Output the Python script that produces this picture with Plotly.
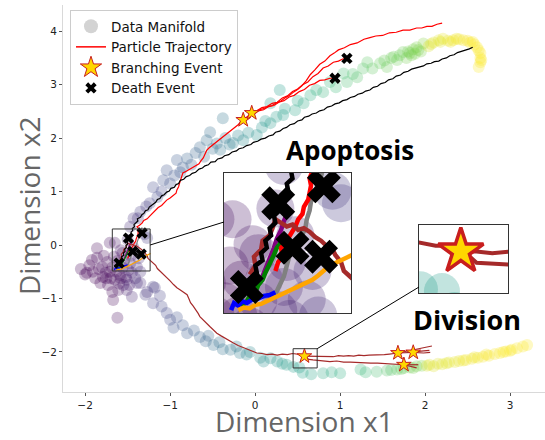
import plotly.graph_objects as go

# ---------------- data ----------------
# manifold points: (x, y, pseudotime)
MANIFOLD = [
    (-2.05,-0.45,0.0),(-2.0,-0.55,0.0),(-1.98,-0.52,0.0),(-1.95,-0.38,0.0),(-1.92,-0.28,0.0),
    (-1.91,-0.50,0.0),(-1.88,-0.62,0.0),(-1.86,-0.24,0.01),(-1.86,-0.06,0.02),(-1.84,-0.45,0.0),
    (-1.82,-0.71,0.0),(-1.80,-0.41,0.01),(-1.79,-0.60,0.0),(-1.78,-0.20,0.02),(-1.76,-0.52,0.01),
    (-1.74,-0.32,0.02),(-1.73,-0.75,0.01),(-1.71,0.04,0.04),(-1.71,-0.50,0.02),(-1.70,-0.62,0.02),
    (-1.68,-0.42,0.02),(-1.67,-1.03,0.02),(-1.66,-0.22,0.03),(-1.65,-0.65,0.03),(-1.65,0.04,0.05),
    (-1.63,-0.50,0.03),(-1.62,-1.36,0.03),(-1.61,-0.84,0.04),(-1.60,-0.72,0.04),(-1.59,-0.56,0.04),
    (-1.58,-0.10,0.05),(-1.56,-0.15,0.05),(-1.56,-0.42,0.05),(-1.55,-0.75,0.06),(-1.54,-0.30,0.06),
    (-1.52,-0.60,0.06),(-1.51,-0.65,0.07),(-1.51,-0.84,0.08),(-1.50,0.10,0.08),(-1.49,-0.47,0.07),
    (-1.47,-0.34,0.08),(-1.46,-0.20,0.08),(-1.45,-0.52,0.09),(-1.45,-0.97,0.1),(-1.43,-0.05,0.09),
    (-1.41,-0.62,0.1),(-1.39,-0.41,0.1),(-1.39,-0.71,0.11),(-1.37,-0.25,0.11),(-1.35,-0.50,0.12),
    (-1.62,-0.30,0.03),(-1.75,-0.62,0.01),(-1.58,-0.62,0.04),(-1.68,-0.88,0.02),(-1.48,-0.75,0.08),
    # upper branch
    (-1.47,0.34,0.12),(-1.38,0.50,0.15),(-1.43,0.50,0.14),(-1.35,0.62,0.17),(-1.30,0.20,0.16),
    (-1.27,0.13,0.17),(-1.28,0.72,0.18),(-1.24,0.78,0.19),(-1.20,1.08,0.22),(-1.15,0.90,0.21),
    (-1.10,1.00,0.22),(-1.08,1.21,0.24),(-1.04,1.40,0.25),(-1.00,1.15,0.24),(-0.95,1.30,0.26),
    (-0.92,1.59,0.28),(-0.88,1.36,0.27),(-0.85,1.45,0.28),(-0.80,1.62,0.30),(-0.75,1.50,0.29),
    (-0.70,1.72,0.31),(-0.65,1.83,0.32),(-0.60,1.65,0.32),(-0.57,1.96,0.34),(-0.53,2.11,0.35),
    (-0.50,1.80,0.34),(-0.45,1.90,0.36),(-0.41,1.78,0.37),(-0.38,2.37,0.38),(-0.35,2.00,0.38),
    (-0.30,1.88,0.40),(-0.26,1.91,0.42),(-0.20,2.05,0.44),(-0.14,1.96,0.47),(-0.08,2.10,0.48),
    (0.02,2.06,0.50),(0.08,2.20,0.51),(0.12,2.32,0.52),(0.18,2.28,0.53),(0.18,2.65,0.53),
    (0.25,2.40,0.54),(0.29,2.90,0.55),(0.33,2.43,0.55),(0.35,2.55,0.56),(0.47,2.52,0.58),
    (0.50,2.70,0.59),(0.57,2.65,0.60),(0.65,2.80,0.62),(0.72,2.90,0.63),(0.80,2.86,0.65),
    (0.88,3.05,0.66),(0.95,2.95,0.67),(1.04,3.21,0.69),(1.08,3.05,0.70),(1.15,3.20,0.71),
    (1.20,3.14,0.72),(1.27,3.30,0.73),(1.32,3.42,0.74),(1.38,3.30,0.75),(1.47,3.40,0.76),
    (1.55,3.33,0.77),(1.60,3.50,0.77),(1.67,3.46,0.78),(1.74,3.61,0.78),(1.78,3.50,0.79),
    (1.82,3.59,0.79),(1.86,3.66,0.8),(1.90,3.70,0.8),(1.95,3.62,0.8),(1.98,3.77,0.82),
    (2.04,3.72,0.94),(2.10,3.79,0.95),(2.16,3.83,0.96),(2.21,3.86,0.97),(2.27,3.82,0.97),
    (2.33,3.83,0.98),(2.40,3.85,0.98),(2.45,3.83,0.99),(2.53,3.79,0.99),(2.58,3.75,1.0),
    (2.61,3.70,1.0),(2.65,3.59,1.0),(2.65,3.50,1.0),(2.65,3.42,1.0),(2.63,3.33,1.0),
    (1.70,3.55,0.78),(1.88,3.58,0.8),(1.52,3.45,0.77),(2.30,3.80,0.98),(2.50,3.82,0.99),
    (1.92,3.65,0.8),(1.80,3.62,0.79),(2.07,3.76,0.95),(2.18,3.80,0.96),(2.37,3.86,0.98),
    (2.56,3.80,1.0),(2.63,3.64,1.0),(2.66,3.46,1.0),(1.63,3.52,0.78),(1.84,3.55,0.79),
    # lower branch
    (-1.35,-0.71,0.13),(-1.29,-0.93,0.16),(-1.27,-0.88,0.15),(-1.20,-0.78,0.16),(-1.18,-0.80,0.17),
    (-1.20,-1.09,0.19),(-1.12,-0.95,0.19),(-1.10,-1.15,0.20),(-1.04,-1.27,0.22),(-1.00,-1.40,0.23),
    (-0.96,-1.55,0.25),(-0.92,-1.35,0.24),(-0.85,-1.50,0.26),(-0.80,-1.65,0.28),(-0.72,-1.60,0.29),
    (-0.65,-1.72,0.30),(-0.58,-1.80,0.32),(-0.55,-1.70,0.32),(-0.49,-1.87,0.34),(-0.42,-1.82,0.35),
    (-0.38,-1.95,0.36),(-0.29,-1.96,0.38),(-0.22,-1.90,0.39),(-0.18,-2.02,0.41),(-0.10,-2.05,0.44),
    (-0.06,-2.00,0.46),(0.06,-2.11,0.48),(0.10,-2.18,0.49),(0.18,-2.12,0.50),(0.26,-2.18,0.52),
    (0.32,-2.22,0.53),(0.37,-2.24,0.54),(0.45,-2.28,0.55),(0.52,-2.29,0.55),(0.56,-2.39,0.57),
    (0.66,-2.42,0.58),(0.80,-2.40,0.60),(0.90,-2.38,0.61),(1.00,-2.40,0.62),(1.24,-2.33,0.66),
    (1.30,-2.38,0.67),(1.43,-2.37,0.70),(1.55,-2.35,0.72),(1.67,-2.33,0.75),(1.75,-2.30,0.77),
    (1.90,-2.27,0.79),(1.96,-2.26,0.8),(2.02,-2.26,0.94),(2.10,-2.27,0.95),(2.15,-2.22,0.95),
    (2.20,-2.23,0.96),(2.28,-2.20,0.96),(2.35,-2.19,0.97),(2.40,-2.17,0.97),(2.48,-2.15,0.98),
    (2.55,-2.13,0.98),(2.62,-2.11,0.98),(2.68,-2.09,0.99),(2.75,-2.07,0.99),(2.82,-2.04,0.99),
    (2.88,-2.02,1.0),(2.95,-1.99,1.0),(3.02,-1.96,1.0),(3.08,-1.93,1.0),(3.15,-1.90,1.0),
    (3.20,-1.87,1.0),(1.82,-2.29,0.78),(1.60,-2.34,0.73),(2.45,-2.16,0.98),(2.92,-2.0,1.0),
    (2.05,-2.24,0.95),(2.25,-2.21,0.96),(2.58,-2.10,0.98),(2.72,-2.05,0.99),(3.0,-1.98,1.0),
    (1.86,-2.30,0.79),(1.72,-2.32,0.76),
]

BLACK = [(-1.59,-0.36),(-1.575,-0.32),(-1.585,-0.29),(-1.565,-0.26),(-1.57,-0.22),(-1.545,-0.19),
    (-1.55,-0.15),(-1.53,-0.12),(-1.535,-0.08),(-1.515,-0.05),(-1.52,-0.01),(-1.50,0.02),(-1.505,0.06),
    (-1.485,0.09),(-1.47,0.13),(-1.475,0.17),(-1.455,0.2),(-1.46,0.24),(-1.44,0.27),(-1.445,0.31),
    (-1.42,0.34),(-1.425,0.38),(-1.40,0.41),(-1.38,0.45),(-1.385,0.49),(-1.35,0.52),(-1.33,0.57),
    (-1.31,0.59),(-1.29,0.64),(-1.26,0.66),(-1.245,0.71),(-1.22,0.74),(-1.20,0.78),(-1.17,0.8),
    (-1.15,0.85),(-1.12,0.87),(-1.10,0.92),(-1.07,0.94),(-1.04,0.99),(-1.01,1.01),(-0.99,1.06),
    (-0.95,1.08),(-0.93,1.13),(-0.9,1.15),(-0.88,1.21),(-0.84,1.23),(-0.81,1.28),(-0.77,1.3),
    (-0.74,1.34),(-0.7,1.36),(-0.66,1.42),(-0.62,1.44),(-0.59,1.48),(-0.55,1.5),(-0.52,1.55),
    (-0.47,1.56),(-0.44,1.61),(-0.39,1.63),(-0.36,1.67),(-0.31,1.69),(-0.27,1.74),(-0.22,1.76),
    (-0.19,1.8),(-0.14,1.82),(-0.1,1.86),(-0.05,1.88),(-0.02,1.92),(0.03,1.94),(0.07,1.98),
    (0.12,2.0),(0.16,2.04),(0.21,2.06),(0.24,2.11),(0.29,2.13),(0.33,2.18),(0.37,2.2),(0.41,2.25),
    (0.46,2.27),(0.5,2.32),(0.55,2.34),(0.58,2.39),(0.63,2.41),(0.67,2.45),(0.72,2.47),(0.76,2.51),
    (0.81,2.53),(0.85,2.58),(0.9,2.6),(0.94,2.64),(0.99,2.66),(1.03,2.7),(1.08,2.72),(1.12,2.76),
    (1.17,2.78),(1.21,2.82),(1.26,2.84),(1.3,2.88),(1.35,2.9),(1.39,2.95),(1.44,2.97),(1.48,3.02),
    (1.53,3.04),(1.57,3.09),(1.62,3.11),(1.66,3.16),(1.71,3.18),(1.75,3.23),(1.8,3.25),(1.84,3.29),
    (1.89,3.31),(1.93,3.34),(1.98,3.35),(2.02,3.39),(2.07,3.4),(2.11,3.43),(2.16,3.44),(2.2,3.48),
    (2.25,3.5),(2.29,3.54),(2.34,3.56),(2.38,3.6),(2.43,3.62),(2.47,3.65),(2.52,3.67),(2.56,3.7)]

RED_TRUNK = [(-1.50,-0.25),(-1.49,-0.2),(-1.475,-0.17),(-1.48,-0.12),(-1.46,-0.08),(-1.445,-0.04),
    (-1.43,0.0),(-1.42,0.04),(-1.405,0.07),(-1.40,0.11),(-1.385,0.15),(-1.38,0.19),(-1.375,0.23),
    (-1.38,0.27),(-1.37,0.31),(-1.39,0.34),(-1.36,0.37),(-1.33,0.41),(-1.31,0.46),(-1.27,0.49),
    (-1.24,0.54),(-1.2,0.6),(-1.17,0.64),(-1.14,0.7),(-1.1,0.74),(-1.07,0.8),(-1.04,0.84),(-1.0,0.88),
    (-0.96,0.93),(-0.93,0.97),(-0.92,1.03),(-0.9,1.09),(-0.89,1.15),(-0.88,1.2),(-0.87,1.27),
    (-0.85,1.35),(-0.81,1.38),(-0.76,1.43),(-0.71,1.47),(-0.66,1.52),(-0.64,1.57),(-0.61,1.63),
    (-0.59,1.7),(-0.57,1.77),(-0.54,1.82),(-0.5,1.87),(-0.46,1.93),(-0.42,1.98),(-0.37,2.04),
    (-0.33,2.09),(-0.28,2.14),(-0.24,2.2),(-0.2,2.25),(-0.17,2.3),(-0.14,2.34)]
RED_A = [(-0.14,2.34),(-0.1,2.4),(-0.07,2.43),(-0.04,2.47),(0.0,2.5),(0.05,2.53),(0.1,2.55),
    (0.15,2.59),(0.2,2.61),(0.25,2.66),(0.3,2.69),(0.35,2.75),(0.4,2.79),(0.45,2.86),(0.5,2.91),
    (0.55,2.98),(0.6,3.07),(0.65,3.19),(0.7,3.27),(0.76,3.38),(0.82,3.44),(0.88,3.54),(0.93,3.59),
    (0.98,3.65),(1.05,3.69),(1.12,3.75),(1.2,3.78),(1.28,3.85),(1.35,3.88),(1.42,3.91),(1.5,3.92),
    (1.58,3.97),(1.66,3.98),(1.74,4.02),(1.82,4.02),(1.9,4.06),(1.96,4.06),(2.02,4.09),(2.08,4.09),
    (2.14,4.13),(2.2,4.15)]
RED_B = [(-0.04,2.47),(0.02,2.51),(0.08,2.57),(0.14,2.59),(0.2,2.65),(0.26,2.67),(0.32,2.75),
    (0.38,2.79),(0.44,2.87),(0.5,2.92),(0.56,3.0),(0.62,3.05),(0.68,3.15),(0.74,3.21),(0.8,3.31),
    (0.86,3.35),(0.92,3.42),(0.98,3.44),(1.03,3.48),(1.08,3.49)]
RED_C = [(-0.14,2.34),(-0.08,2.41),(-0.02,2.44),(0.04,2.51),(0.1,2.53),(0.16,2.59),(0.22,2.61),
    (0.28,2.67),(0.34,2.7),(0.4,2.77),(0.46,2.8),(0.52,2.87),(0.58,2.91),(0.64,2.99),(0.7,3.02),
    (0.76,3.08),(0.82,3.09),(0.88,3.12),(0.94,3.12)]

BROWN_TRUNK = [(-1.59,-0.27),(-1.57,-0.22),(-1.575,-0.17),(-1.55,-0.13),(-1.545,-0.08),(-1.52,-0.05),
    (-1.51,-0.01),(-1.5,0.04),(-1.48,0.02),(-1.46,0.0),(-1.44,0.01),(-1.42,-0.02),(-1.4,-0.01),
    (-1.38,-0.03),(-1.36,-0.06),(-1.34,-0.08),(-1.32,-0.11),(-1.3,-0.13),(-1.29,-0.16),(-1.27,-0.2),
    (-1.26,-0.25),(-1.23,-0.29),(-1.2,-0.33),(-1.17,-0.38),(-1.15,-0.44),(-1.11,-0.5),(-1.08,-0.55),
    (-1.04,-0.6),(-1.0,-0.67),(-0.96,-0.74),(-0.92,-0.8),(-0.88,-0.84),(-0.84,-0.88),(-0.8,-0.93),
    (-0.78,-1.0),(-0.76,-1.08),(-0.73,-1.14),(-0.7,-1.2),(-0.67,-1.28),(-0.65,-1.34),(-0.61,-1.41),
    (-0.57,-1.47),(-0.53,-1.53),(-0.49,-1.59),(-0.45,-1.65),(-0.4,-1.7),(-0.36,-1.74),(-0.32,-1.78),
    (-0.26,-1.83),(-0.2,-1.88),(-0.14,-1.92),(-0.09,-1.96),(-0.03,-1.99),(0.02,-2.02),(0.08,-2.03),
    (0.14,-2.05),(0.2,-2.04),(0.26,-2.06),(0.32,-2.04),(0.38,-2.05),(0.44,-2.03),(0.5,-2.05),
    (0.54,-2.05),(0.58,-2.08)]
BROWN_D1 = [(0.58,-2.08),(0.63,-2.08),(0.68,-2.09),(0.74,-2.08),(0.8,-2.09),(0.86,-2.08),(0.92,-2.09),
    (0.98,-2.07),(1.04,-2.08),(1.1,-2.07),(1.16,-2.08),(1.22,-2.06),(1.28,-2.07),(1.34,-2.06),
    (1.4,-2.06),(1.46,-2.05),(1.52,-2.05),(1.58,-2.04),(1.63,-2.03),(1.68,-2.02)]
BROWN_D1A = [(1.68,-2.02),(1.74,-2.0),(1.8,-1.99),(1.86,-1.96),(1.92,-1.95),(1.98,-1.92),(2.03,-1.91),(2.08,-1.89)]
BROWN_D1B = [(1.68,-2.02),(1.74,-2.02),(1.8,-2.01),(1.86,-2.01),(1.92,-1.99),(1.98,-1.98),(2.05,-1.97)]
BROWN_D1C = [(1.86,-2.01),(1.92,-2.02),(1.98,-2.02),(2.06,-2.01)]
BROWN_D2 = [(0.58,-2.08),(0.61,-2.11),(0.63,-2.14),(0.68,-2.15),(0.73,-2.16),(0.8,-2.16),(0.88,-2.18),
    (0.96,-2.17),(1.04,-2.19),(1.12,-2.19),(1.2,-2.2),(1.28,-2.2),(1.36,-2.21),(1.44,-2.21),
    (1.52,-2.22),(1.6,-2.22),(1.68,-2.24),(1.75,-2.24)]
BROWN_D2A = [(1.75,-2.24),(1.8,-2.24),(1.86,-2.23),(1.92,-2.24)]
BROWN_D2B = [(1.75,-2.24),(1.8,-2.26),(1.85,-2.28),(1.9,-2.3)]

ORANGE = [(-1.63,-0.47),(-1.61,-0.455),(-1.59,-0.46),(-1.57,-0.44),(-1.55,-0.435),(-1.53,-0.42),
    (-1.51,-0.41),(-1.49,-0.39),(-1.47,-0.375),(-1.45,-0.36),(-1.43,-0.35),(-1.41,-0.33),(-1.39,-0.32),
    (-1.37,-0.3),(-1.35,-0.275),(-1.33,-0.25),(-1.31,-0.22),(-1.29,-0.205),(-1.27,-0.19),(-1.25,-0.175),
    (-1.23,-0.16)]
BLUE = [(-1.655,-0.47),(-1.645,-0.43),(-1.63,-0.445),(-1.615,-0.42),(-1.6,-0.43),(-1.58,-0.41),
    (-1.56,-0.405),(-1.54,-0.39),(-1.52,-0.385),(-1.5,-0.37)]
GREEN = [(-1.62,-0.45),(-1.60,-0.42),(-1.59,-0.39),(-1.57,-0.37),(-1.56,-0.33),(-1.545,-0.3),
    (-1.535,-0.26),(-1.525,-0.23),(-1.515,-0.19),(-1.505,-0.16),(-1.495,-0.12),(-1.485,-0.1),(-1.475,-0.06)]
PURPLE = [(-1.55,-0.3),(-1.535,-0.24),(-1.52,-0.19),(-1.505,-0.12),(-1.495,-0.07),(-1.48,-0.02),
    (-1.47,0.03),(-1.46,0.07)]
GRAY = [(-1.5,-0.38),(-1.485,-0.33),(-1.47,-0.28),(-1.46,-0.22),(-1.45,-0.16),(-1.43,-0.11),
    (-1.41,-0.06),(-1.395,-0.01),(-1.39,0.04),(-1.38,0.09),(-1.375,0.14),(-1.36,0.19),(-1.35,0.24),
    (-1.34,0.29),(-1.33,0.33)]

DEATH_X = [-1.33, -1.49, -1.44, -1.34, -1.60, 0.94, 1.08]
DEATH_Y = [0.225, 0.13, -0.12, -0.17, -0.34, 3.12, 3.49]
BRANCH_X = [-0.14, -0.04, 0.58, 1.68, 1.86, 1.75]
BRANCH_Y = [2.34, 2.47, -2.08, -2.02, -2.01, -2.24]

X_TICKS = [-2, -1, 0, 1, 2, 3]
Y_TICKS = [-2, -1, 0, 1, 2, 3, 4]
X_RANGE = [-2.26, 3.41]
Y_RANGE = [-2.75, 4.49]
ZOOM1 = dict(x=[-1.68, -1.235], y=[-0.486, 0.30])
ZOOM2 = dict(x=[0.447, 0.73], y=[-2.30, -1.94])

# ---------------- helpers ----------------
def xs(pts):
    return [p[0] for p in pts]

def ys(pts):
    return [p[1] for p in pts]

def join(*segs):
    X, Y = [], []
    for s in segs:
        X += xs(s) + [None]
        Y += ys(s) + [None]
    return X, Y

MX = [p[0] for p in MANIFOLD]
MY = [p[1] for p in MANIFOLD]
MT = [p[2] for p in MANIFOLD]

fig = go.Figure()

LINE_SETS = [
    ("gray", join(GRAY)),
    ("purple", join(PURPLE)),
    ("green", join(GREEN)),
    ("blue", join(BLUE)),
    ("red", join(RED_TRUNK, RED_A, RED_B, RED_C)),
    ("#a52a2a", join(BROWN_TRUNK, BROWN_D1, BROWN_D1A, BROWN_D1B, BROWN_D1C, BROWN_D2, BROWN_D2A, BROWN_D2B)),
    ("black", join(BLACK)),
    ("orange", join(ORANGE)),
]

def add_layer(xa, ya, msize, lw, xsize, ssize, slw):
    fig.add_trace(go.Scatter(x=MX, y=MY, mode="markers", xaxis=xa, yaxis=ya, showlegend=False,
                             marker=dict(size=msize, color=MT, colorscale="Viridis", cmin=0, cmax=1,
                                         opacity=0.27, line=dict(width=0)), hoverinfo="skip"))
    for col, (X, Y) in LINE_SETS:
        fig.add_trace(go.Scatter(x=X, y=Y, mode="lines", xaxis=xa, yaxis=ya, showlegend=False,
                                 line=dict(color=col, width=lw), hoverinfo="skip"))
    fig.add_trace(go.Scatter(x=BRANCH_X, y=BRANCH_Y, mode="markers", xaxis=xa, yaxis=ya, showlegend=False,
                             marker=dict(symbol="star", size=ssize, color="#ffd700",
                                         line=dict(color="#c81e1e", width=slw))))
    fig.add_trace(go.Scatter(x=DEATH_X, y=DEATH_Y, mode="markers", xaxis=xa, yaxis=ya, showlegend=False,
                             marker=dict(symbol="x", size=xsize, color="black", line=dict(width=0))))

add_layer("x", "y", 12, 1.2, 10, 11, 1)
add_layer("x2", "y2", 38, 4.5, 30, 30, 3)
add_layer("x3", "y3", 36, 4.0, 30, 34, 3.5)

# legend entries
fig.add_trace(go.Scatter(x=[None], y=[None], mode="markers", name="Data Manifold",
                         marker=dict(size=14, color="#d3d3d3")))
fig.add_trace(go.Scatter(x=[None], y=[None], mode="lines", name="Particle Trajectory",
                         line=dict(color="red", width=1.5)))
fig.add_trace(go.Scatter(x=[None], y=[None], mode="markers", name="Branching Event",
                         marker=dict(symbol="star", size=16, color="#ffd700", line=dict(color="#c81e1e", width=1))))
fig.add_trace(go.Scatter(x=[None], y=[None], mode="markers", name="Death Event",
                         marker=dict(symbol="x", size=10, color="black", line=dict(width=0))))

# ---------------- layout ----------------
L, R, T, B = 63, 0, 5, 48
W, H = 545, 440
PW, PH = W - L - R, H - T - B

def px_to_paper(px, py):
    return (px - L) / PW, (H - B - py) / PH

def data_to_paper(x, y):
    return ((x - X_RANGE[0]) / (X_RANGE[1] - X_RANGE[0]),
            (y - Y_RANGE[0]) / (Y_RANGE[1] - Y_RANGE[0]))

i1x0, i1y0 = px_to_paper(224, 313)
i1x1, i1y1 = px_to_paper(351, 173)
i2x0, i2y0 = px_to_paper(419, 293)
i2x1, i2y1 = px_to_paper(508, 225)

tickfont = dict(family="DejaVu Sans", size=10.5, color="#222")
titlefont = dict(family="Open Sans", size=28, color="#666666")

fig.update_layout(
    width=W, height=H, margin=dict(l=L, r=R, t=T, b=B),
    paper_bgcolor="white", plot_bgcolor="white",
    xaxis=dict(range=X_RANGE, tickvals=X_TICKS, showgrid=False, zeroline=False, showline=True,
               linecolor="#d9d9d9", linewidth=1, ticks="outside", ticklen=3, tickcolor="#555",
               tickfont=tickfont),
    yaxis=dict(range=Y_RANGE, tickvals=Y_TICKS, showgrid=False, zeroline=False, showline=True,
               linecolor="#d9d9d9", linewidth=1, ticks="outside", ticklen=3, tickcolor="#555",
               tickfont=tickfont),
    xaxis2=dict(domain=[i1x0, i1x1], anchor="y2", range=ZOOM1["x"], showticklabels=False, ticks="",
                showgrid=False, zeroline=False, showline=True, mirror=True, linecolor="#333", linewidth=1.2),
    yaxis2=dict(domain=[i1y0, i1y1], anchor="x2", range=ZOOM1["y"], showticklabels=False, ticks="",
                showgrid=False, zeroline=False, showline=True, mirror=True, linecolor="#333", linewidth=1.2),
    xaxis3=dict(domain=[i2x0, i2x1], anchor="y3", range=ZOOM2["x"], showticklabels=False, ticks="",
                showgrid=False, zeroline=False, showline=True, mirror=True, linecolor="#333", linewidth=1.2),
    yaxis3=dict(domain=[i2y0, i2y1], anchor="x3", range=ZOOM2["y"], showticklabels=False, ticks="",
                showgrid=False, zeroline=False, showline=True, mirror=True, linecolor="#333", linewidth=1.2),
    legend=dict(x=0.0145, y=0.987, xanchor="left", yanchor="top", bgcolor="rgba(255,255,255,0.85)",
                bordercolor="#cccccc", borderwidth=1, font=dict(family="DejaVu Sans", size=13.5, color="#111"),
                tracegroupgap=0),
    showlegend=True,
)

# axis titles
tx, ty = px_to_paper(304, 421)
fig.add_annotation(text="Dimension x1", x=tx, y=ty, xref="paper", yref="paper", showarrow=False,
                   xanchor="center", yanchor="middle", font=titlefont)
vx, vy = px_to_paper(29, 206)
fig.add_annotation(text="Dimension x2", x=vx, y=vy, xref="paper", yref="paper", showarrow=False,
                   textangle=-90, xanchor="center", yanchor="middle", font=titlefont)

# zoom boxes in main axes
for z in (ZOOM1, ZOOM2):
    fig.add_shape(type="rect", xref="x", yref="y", x0=z["x"][0], x1=z["x"][1], y0=z["y"][0], y1=z["y"][1],
                  line=dict(color="#333", width=1), fillcolor="rgba(0,0,0,0)")

# connector lines
sx, sy = data_to_paper(ZOOM1["x"][1], 0.0)
fig.add_shape(type="line", xref="paper", yref="paper", x0=sx, y0=sy, x1=i1x0, y1=px_to_paper(0, 222)[1],
              line=dict(color="black", width=1))
sx2, sy2 = data_to_paper(ZOOM2["x"][1], ZOOM2["y"][1])
fig.add_shape(type="line", xref="paper", yref="paper", x0=sx2, y0=sy2, x1=i2x0, y1=px_to_paper(0, 287)[1],
              line=dict(color="black", width=1))

ax, ay = px_to_paper(350, 150)
fig.add_annotation(text="<b>Apoptosis</b>", x=ax, y=ay, xref="paper", yref="paper", showarrow=False,
                   xanchor="center", yanchor="middle", font=dict(family="Open Sans", size=26, color="black"))
dx, dy = px_to_paper(467, 319)
fig.add_annotation(text="<b>Division</b>", x=dx, y=dy, xref="paper", yref="paper", showarrow=False,
                   xanchor="center", yanchor="middle", font=dict(family="Open Sans", size=27, color="black"))

fig.write_html("out.html")
